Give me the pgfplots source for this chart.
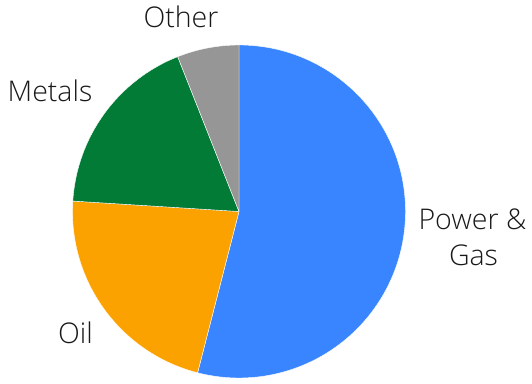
\documentclass[border=0pt]{standalone}
\usepackage{pgfplots}
\pgfplotsset{compat=1.18}
\usepackage{pgfplotstable}
\usepackage{fontspec}
\setmainfont{Open Sans Light}
\definecolor{cPower}{RGB}{57,133,255}
\definecolor{cOil}{RGB}{252,162,0}
\definecolor{cMetals}{RGB}{1,123,53}
\definecolor{cOther}{RGB}{150,150,150}
\pgfplotstableread{
idx value color
0 54 cPower
1 22 cOil
2 18 cMetals
3 6 cOther
}\piedata
% cumulative angles (clockwise from 12 o'clock)
\newcommand{\cumangle}{90}
\pgfplotstablegetrowsof{\piedata}
\pgfmathtruncatemacro{\nrows}{\pgfplotsretval-1}
\foreach \i in {0,...,\nrows}{%
  \pgfplotstablegetelem{\i}{value}\of\piedata
  \pgfmathsetmacro{\val}{\pgfplotsretval}%
  \pgfplotstablegetelem{\i}{color}\of\piedata
  \expandafter\xdef\csname piecol\i\endcsname{\pgfplotsretval}%
  \expandafter\xdef\csname piestart\i\endcsname{\cumangle}%
  \pgfmathsetmacro{\newang}{\cumangle-3.6*\val}%
  \xdef\cumangle{\newang}%
  \expandafter\xdef\csname pieend\i\endcsname{\newang}%
}
\begin{document}
\begin{tikzpicture}
\begin{axis}[
  x=1bp, y=1bp,
  xmin=0, xmax=532, ymin=0, ymax=380,
  hide axis, clip=false,
]
\path (rel axis cs:0,0) rectangle (rel axis cs:1,1);
\pgfplotsinvokeforeach{0,...,3}{%
  \fill[fill=\csname piecol#1\endcsname, draw=white, line width=0.4bp, line join=round]
    (axis cs:239,168.5) -- ++({\csname piestart#1\endcsname}:166.5bp)
    arc[start angle=\csname piestart#1\endcsname, end angle=\csname pieend#1\endcsname, radius=166.5bp] -- cycle;
}
\begin{scope}[every node/.style={font=\fontsize{28.5bp}{36bp}\selectfont, text=black!90, inner sep=0pt}]
\node[anchor=base] at (axis cs:181,352) {Other};
\node[anchor=base] at (axis cs:50,278) {Metals};
\node[anchor=base] at (axis cs:75.5,37) {Oil};
\node[anchor=base] at (axis cs:472.5,151) {Power \&};
\node[anchor=base] at (axis cs:473.5,115) {Gas};
\end{scope}
\end{axis}
\end{tikzpicture}
\end{document}
